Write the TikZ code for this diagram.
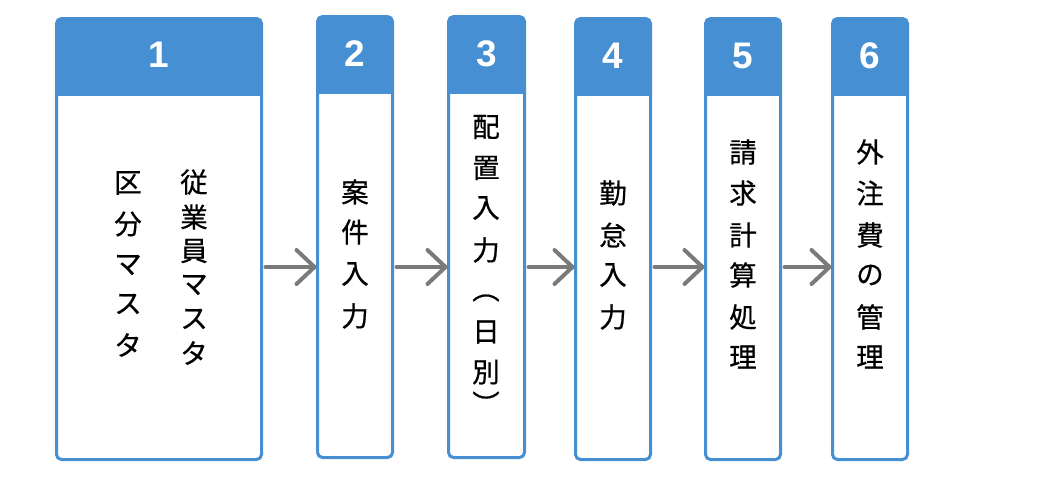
\documentclass[tikz,border=0pt]{standalone}
\usepackage{fontspec}
\setmainfont{Liberation Sans}
\newfontfamily\jpfont[FakeBold=0.6]{Noto Sans CJK JP}
\usetikzlibrary{arrows.meta}
\definecolor{hdrblue}{RGB}{70,143,210}
\definecolor{arrgray}{RGB}{122,122,122}
\tikzset{
  stepbox/.style={draw=hdrblue, line width=3pt, fill=white, rounded corners=5pt,
    inner sep=0pt, outer sep=0pt, anchor=north west,
    path picture={\fill[hdrblue, sharp corners] (path picture bounding box.north west) rectangle ([yshift=-#1]path picture bounding box.north east);}},
  numlbl/.style={text=white, font=\fontsize{37}{37}\selectfont\bfseries, inner sep=0pt},
  jp/.style={font=\jpfont\fontsize{27.5}{28}\selectfont, inner sep=0pt, text=black},
  arr/.style={draw=arrgray, line width=4pt, line cap=round,
    -{Straight Barb[length=18pt,width=34pt,round]}},
}
\begin{document}
\begin{tikzpicture}[x=1pt,y=-1pt]
\useasboundingbox (0,0) rectangle (1039,477);
% boxes (outer edges measured in px)
\node[stepbox=77pt, minimum width=205pt, minimum height=441pt] (b1) at (56.5,18.5) {};
\node[stepbox=77pt, minimum width=75pt, minimum height=441pt] (b2) at (317.5,16.5) {};
\node[stepbox=77pt, minimum width=76pt, minimum height=441pt] (b3) at (448.5,16.5) {};
\node[stepbox=77pt, minimum width=75pt, minimum height=441pt] (b4) at (575.5,18.5) {};
\node[stepbox=77pt, minimum width=75pt, minimum height=441pt] (b5) at (705.5,18.5) {};
\node[stepbox=77pt, minimum width=75pt, minimum height=441pt] (b6) at (832.5,18.5) {};
% numbers
\node[numlbl] (n1) at (159,55) {1};
\node[numlbl] (n2) at (355,54) {2};
\node[numlbl] (n3) at (486.5,54) {3};
\node[numlbl] (n4) at (613,56) {4};
\node[numlbl] (n5) at (743,56) {5};
\node[numlbl] (n6) at (870,56) {6};
% vertical texts
\foreach \c/\y [count=\i] in {従/182,業/217,員/251,マ/285,ス/319,タ/353}
  \node[jp] (t1a\i) at (194,\y) {\c};
\foreach \c/\y [count=\i] in {区/183,分/224,マ/265,ス/304,タ/345}
  \node[jp] (t1b\i) at (128,\y) {\c};
\foreach \c/\y [count=\i] in {案/192,件/232,入/274,力/316}
  \node[jp] (t2\i) at (355,\y) {\c};
\foreach \c/\y [count=\i] in {配/127,置/168,入/208,力/250,︵/298,日/332,別/372,︶/403}
  \node[jp] (t3\i) at (486,\y) {\c};
\foreach \c/\y [count=\i] in {勤/193,怠/235,入/275,力/317}
  \node[jp] (t4\i) at (613,\y) {\c};
\foreach \c/\y [count=\i] in {請/152,求/193,計/235,算/275,処/317,理/357}
  \node[jp] (t5\i) at (743,\y) {\c};
\foreach \c/\y [count=\i] in {外/152,注/193,費/235,の/275,管/317,理/357}
  \node[jp] (t6\i) at (870,\y) {\c};
% connectors
\coordinate (ay) at (0,267);
\draw[arr] ([xshift=4pt]b1.east |- ay) -- ([xshift=-1pt]b2.west |- ay);
\draw[arr] ([xshift=4pt]b2.east |- ay) -- ([xshift=-1pt]b3.west |- ay);
\draw[arr] ([xshift=4pt]b3.east |- ay) -- ([xshift=-1pt]b4.west |- ay);
\draw[arr] ([xshift=4pt]b4.east |- ay) -- ([xshift=-1pt]b5.west |- ay);
\draw[arr] ([xshift=4pt]b5.east |- ay) -- ([xshift=-1pt]b6.west |- ay);
\end{tikzpicture}
\end{document}
